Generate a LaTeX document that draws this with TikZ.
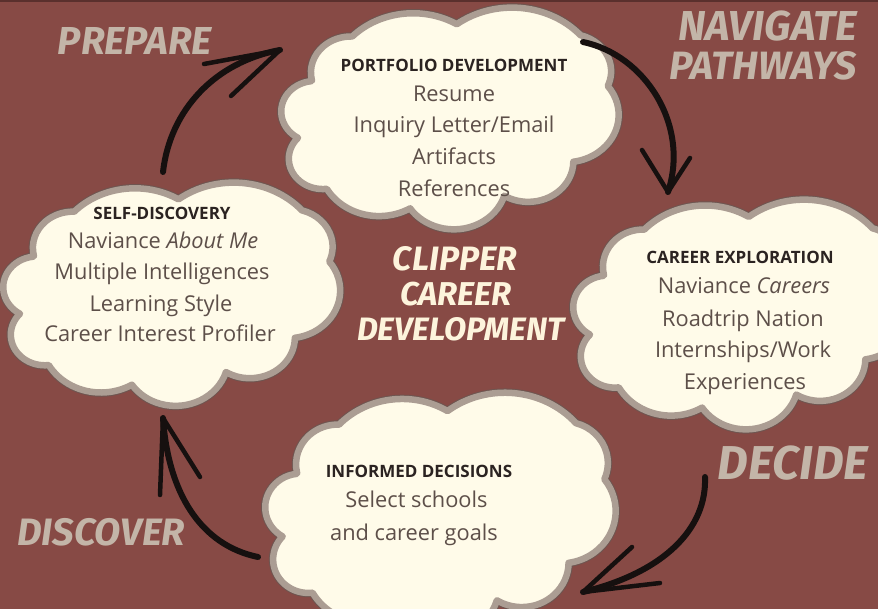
\documentclass[tikz,border=0pt]{standalone}
\usepackage{fontspec}
\usepackage{graphicx}
\setmainfont{Open Sans}
\newfontfamily\handfont{Fira Sans}
\definecolor{bg}{HTML}{874A45}
\definecolor{topband}{HTML}{5A302D}
\definecolor{cream}{HTML}{FFFBE9}
\definecolor{cloudborder}{HTML}{AB9D93}
\definecolor{cloudedge}{HTML}{6E5550}
\definecolor{labelcol}{HTML}{C3B5A8}
\definecolor{titlecol}{HTML}{FDF4DC}
\definecolor{headtext}{HTML}{2B2321}
\definecolor{bodytext}{HTML}{5D4F49}
\definecolor{ink}{HTML}{16100F}
\newcommand\cloudpath{(39,143.7)
 arc[start angle=167.3, end angle=271.8, x radius=51.43, y radius=70]
 arc[start angle=-136.2, end angle=-58.7, x radius=107.86, y radius=146.8]
 arc[start angle=-127.14, end angle=-41.56, x radius=117.27, y radius=159.6]
 arc[start angle=-74.77, end angle=23.21, x radius=53.33, y radius=72.73]
 arc[start angle=-37.51, end angle=81.86, x radius=67.75, y radius=92.20]
 arc[start angle=0.46, end angle=121.98, x radius=57.85, y radius=78.67]
 arc[start angle=16.84, end angle=146.21, x radius=67.52, y radius=92.15]
 arc[start angle=58.98, end angle=150.19, x radius=77.20, y radius=105.43]
 arc[start angle=83.31, end angle=223.09, x radius=43.60, y radius=59.18]
 arc[start angle=120.36, end angle=264.11, x radius=43.45, y radius=59.45]
 -- cycle}
\newcommand\drawcloud[4]{%
 \begin{scope}[shift={(#1,#2)}, x=#3pt, y=-#4pt]
  \draw[cloudedge, line width=8.5pt, line join=round] \cloudpath;
  \filldraw[fill=cream, draw=cloudborder, line width=6.5pt, line join=round] \cloudpath;
 \end{scope}}
\newcommand\hand[2]{\resizebox{#1pt}{!}{\handfont\bfseries\itshape #2}}
\tikzset{
 headline/.style={font=\fontsize{17}{20}\selectfont\bfseries, text=headtext, inner sep=0pt, anchor=base},
 bodyline/.style={font=\fontsize{21.8}{26}\selectfont, text=bodytext, inner sep=0pt, anchor=base},
 stagelabel/.style={text=labelcol, inner sep=0pt},
 titlelabel/.style={text=titlecol, inner sep=0pt},
 shaft/.style={draw=ink, line width=6pt, line cap=round, line join=round},
 barb/.style={draw=ink, line width=4.5pt, line cap=round}
}
\begin{document}
\begin{tikzpicture}[x=1pt, y=-1pt]
\useasboundingbox (0,0) rectangle (878,609);
\fill[bg] (0,0) rectangle (878,609);
\fill[topband] (0,0) rectangle (878,2);

% clouds
\drawcloud{281.5}{6.5}{0.7801}{0.5139}
\drawcloud{3.5}{181.5}{0.7789}{0.5174}
\drawcloud{573.5}{198.5}{0.7801}{0.5324}
\drawcloud{265.5}{391.5}{0.8102}{0.5671}

% top cloud text
\node[headline] (pfh) at (454,72) {PORTFOLIO DEVELOPMENT};
\node[bodyline] (pf1) at (454,102) {Resume};
\node[bodyline] (pf2) at (454,133) {Inquiry Letter/Email};
\node[bodyline] (pf3) at (454,165) {Artifacts};
\node[bodyline] (pf4) at (454,197) {References};

% left cloud text
\node[headline] (sdh) at (162,220) {SELF-DISCOVERY};
\node[bodyline] (sd1) at (163,249) {Naviance \textit{About Me}};
\node[bodyline] (sd2) at (162,280) {Multiple Intelligences};
\node[bodyline] (sd3) at (161,312) {Learning Style};
\node[bodyline] (sd4) at (160,342) {Career Interest Profiler};

% right cloud text
\node[headline] (ceh) at (740,264) {CAREER EXPLORATION};
\node[bodyline] (ce1) at (744,294) {Naviance \textit{Careers}};
\node[bodyline] (ce2) at (743,327) {Roadtrip Nation};
\node[bodyline] (ce3) at (743,358) {Internships/Work};
\node[bodyline] (ce4) at (745,389) {Experiences};

% bottom cloud text
\node[headline] (idh) at (419,477) {INFORMED DECISIONS};
\node[bodyline] (id1) at (416.5,507) {Select schools};
\node[bodyline] (id2) at (414,540) {and career goals};

% stage labels
\node[stagelabel] (prep) at (135,40.5) {\hand{154}{PREPARE}};
\node[stagelabel] (nav1) at (767.5,26) {\hand{179}{NAVIGATE}};
\node[stagelabel] (nav2) at (763.5,66) {\hand{187}{PATHWAYS}};
\node[stagelabel] (dec) at (793,463) {\hand{150}{DECIDE}};
\node[stagelabel] (disc) at (101,532.5) {\hand{168}{DISCOVER}};

% title
\node[titlelabel] (t1) at (455,259) {\hand{124}{CLIPPER}};
\node[titlelabel] (t2) at (456,294) {\hand{112}{CAREER}};
\node[titlelabel] (t3) at (461,329) {\hand{208}{DEVELOPMENT}};

% arrow 1 (prepare)
\coordinate (a1s) at (163,172);
\coordinate (a1t) at (280,50);
\coordinate (a1b1) at (204,64);
\coordinate (a1b2) at (231,96);
\draw[shaft] (a1s) .. controls (170,110) and (215,62) .. (a1t);
\draw[barb] (a1b1) -- (a1t);
\draw[barb] (a1b2) -- (a1t);

% arrow 2 (navigate)
\coordinate (a2s) at (583,42);
\coordinate (a2t) at (668,192);
\coordinate (a2b1) at (642,150);
\coordinate (a2b2) at (690,158);
\draw[shaft] (a2s) .. controls (645,55) and (690,125) .. (a2t);
\draw[barb] (a2b1) -- (a2t);
\draw[barb] (a2b2) -- (a2t);

% arrow 3 (decide)
\coordinate (a3s) at (705,477);
\coordinate (a3t) at (583,592);
\coordinate (a3b1) at (632,547);
\coordinate (a3b2) at (660,583);
\draw[shaft] (a3s) .. controls (707,528) and (665,572) .. (a3t);
\draw[barb] (a3b1) -- (a3t);
\draw[barb] (a3b2) -- (a3t);

% arrow 4 (discover)
\coordinate (a4s) at (258,557);
\coordinate (a4t) at (163,418);
\coordinate (a4b1) at (160,495);
\coordinate (a4b2) at (200,477);
\draw[shaft] (a4s) .. controls (200,545) and (168,492) .. (a4t);
\draw[barb] (a4b1) -- (a4t);
\draw[barb] (a4b2) -- (a4t);
\end{tikzpicture}
\end{document}
